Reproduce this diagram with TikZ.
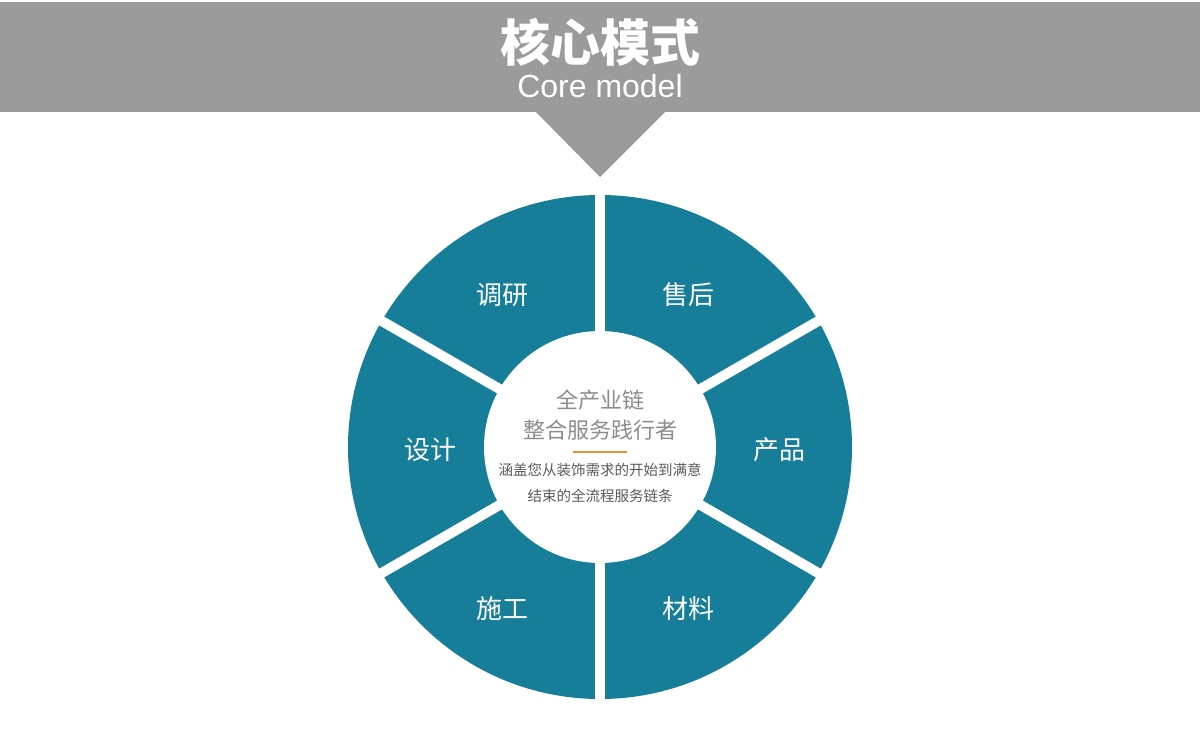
\documentclass[tikz,border=0pt]{standalone}
\usepackage{fontspec}
\setmainfont{Liberation Sans}
\newfontfamily\cjk{Noto Sans CJK SC}
\usetikzlibrary{calc}
\definecolor{bannergray}{HTML}{9B9B9B}
\definecolor{ringteal}{HTML}{167E98}
\definecolor{hubgray}{HTML}{8C8C8C}
\definecolor{notegray}{HTML}{5A5A5A}
\definecolor{accent}{HTML}{E8923A}
\tikzset{
  title/.style={text=white,font=\cjk\bfseries\fontsize{50}{56}\selectfont},
  subtitle/.style={text=white,anchor=base,font=\fontsize{32}{36}\selectfont},
  seglabel/.style={text=white,font=\cjk\fontsize{26}{30}\selectfont},
  hubline/.style={text=hubgray,font=\cjk\fontsize{22}{26}\selectfont},
  noteline/.style={text=notegray,font=\cjk\fontsize{14.5}{18}\selectfont},
  gap/.style={white,line width=10pt}
}

\begin{document}
\begin{tikzpicture}[x=1pt,y=-1pt]
\useasboundingbox (0,0) rectangle (1200,750);
% banner
\fill[bannergray] (0,2) rectangle (1200,112);
\fill[bannergray] (535,111) -- (666,111) -- (600,177) -- cycle;
\node[title] (title) at (600,42) {核心模式};
\node[subtitle] (subtitle) at (600,97) {Core model};
% ring
\coordinate (hub) at (600,447);
\fill[ringteal] (hub) circle[radius=252];
\foreach \a in {30,90,...,330}
  \draw[gap] (hub) -- ++(\a:262);
\fill[white] (hub) circle[radius=116];
% segments
\node[seglabel] (survey) at (502,295) {调研};
\node[seglabel] (service) at (688,295) {售后};
\node[seglabel] (design) at (430,450) {设计};
\node[seglabel] (product) at (779,450) {产品};
\node[seglabel] (build) at (502,609) {施工};
\node[seglabel] (material) at (688,609) {材料};
% hub text
\node[hubline] (hubtop) at (600,400) {全产业链};
\node[hubline] (hubmid) at (600,430) {整合服务践行者};
\draw[accent,line width=2pt] (573,452) -- (627,452);
\node[noteline] (notetop) at (600,470) {涵盖您从装饰需求的开始到满意};
\node[noteline] (notebot) at (600,496) {结束的全流程服务链条};
\end{tikzpicture}
\end{document}
